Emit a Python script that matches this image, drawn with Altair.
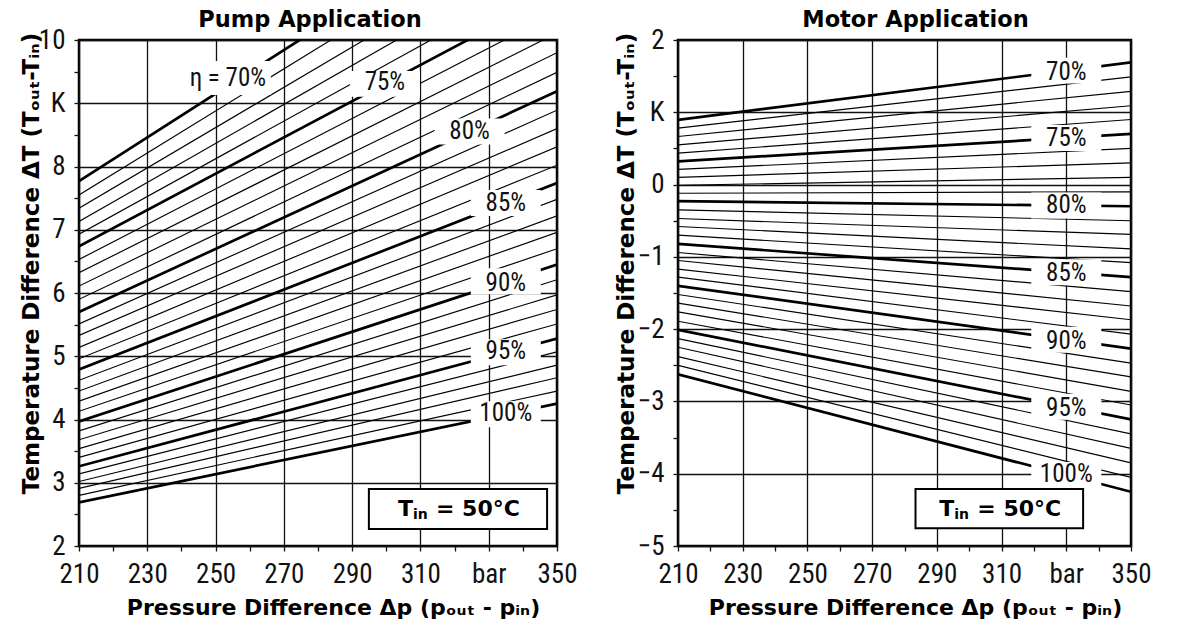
import altair as alt
import pandas as pd

# ---------------- data ----------------
eta = list(range(70, 101))
p_start, p_end = 210, 350

pump_dt_210 = [7.77, 7.55, 7.34, 7.13, 6.93, 6.74, 6.53, 6.32, 6.11, 5.90,
               5.70, 5.51, 5.33, 5.14, 4.96, 4.79, 4.62, 4.45, 4.29, 4.13,
               3.97, 3.82, 3.68, 3.54, 3.40, 3.26, 3.14, 3.02, 2.91, 2.80, 2.69]
pump_dt_350 = [12.6, 12.2, 11.8, 11.45, 11.1, 10.75, 10.43, 10.11, 9.80, 9.49,
               9.19, 8.89, 8.60, 8.31, 8.02, 7.74, 7.48, 7.22, 6.96, 6.70,
               6.45, 6.21, 5.97, 5.74, 5.51, 5.28, 5.07, 4.86, 4.66, 4.45, 4.25]
motor_dt_210 = [0.895, 0.78, 0.665, 0.55, 0.435, 0.32, 0.21, 0.10, -0.01, -0.12,
                -0.23, -0.35, -0.47, -0.58, -0.70, -0.82, -0.94, -1.05, -1.17, -1.28,
                -1.40, -1.52, -1.64, -1.76, -1.89, -2.01, -2.13, -2.25, -2.38, -2.50, -2.625]
motor_dt_350 = [1.69, 1.49, 1.29, 1.09, 0.90, 0.70, 0.50, 0.30, 0.10, -0.10,
                -0.30, -0.50, -0.69, -0.89, -1.08, -1.28, -1.48, -1.68, -1.87, -2.07,
                -2.27, -2.47, -2.66, -2.86, -3.05, -3.25, -3.45, -3.65, -3.85, -4.05, -4.25]

label_eta = [70, 75, 80, 85, 90, 95, 100]
pump_label_text = ["η = 70%", "75%", "80%", "85%", "90%", "95%", "100%"]
pump_label_x = [253.6, 299.6, 324.4, 335, 335, 335, 335]
pump_label_y = [9.40, 9.33, 8.56, 7.43, 6.16, 5.08, 4.11]
motor_label_text = ["70%", "75%", "80%", "85%", "90%", "95%", "100%"]
motor_label_x = [330, 330, 330, 330, 330, 330, 330]
motor_label_y = [1.56, 0.64, -0.28, -1.22, -2.17, -3.09, -4.01]

pump_tin_box = {"p": 294.9, "p2": 347.1, "dt": 2.27, "dt2": 2.90}
motor_tin_box = {"p": 283.4, "p2": 335.2, "dt": -4.755, "dt2": -4.21}
tin_parts = ["T", "in", "= 50°C"]

x_ticks = list(range(210, 351, 10))
pump_y_ticks = [v / 2 for v in range(4, 21)]
motor_y_ticks = [v / 2 for v in range(-10, 5)]

X_TITLE = "Pressure Difference Δp (pₒᵤₜ - pᵢₙ)"
Y_TITLE = "Temperature Difference ΔT (Tₒᵤₜ-Tᵢₙ)"

NARROW = "Liberation Sans Narrow, Roboto Condensed, Liberation Sans, sans-serif"
BOLD = "DejaVu Sans, Liberation Sans, Arial, sans-serif"


def line_frame(d0, d1):
    rows = []
    for e, a, b in zip(eta, d0, d1):
        rows.append({"eta": e, "p": p_start, "dt": a})
        rows.append({"eta": e, "p": p_end, "dt": b})
    return pd.DataFrame(rows)


def value_at(e, x, d0, d1):
    i = eta.index(e)
    return d0[i] + (d1[i] - d0[i]) * (x - p_start) / (p_end - p_start)


def rect_path(w, h):
    r = h / w
    return f"M-1,-{r:.3f}L1,-{r:.3f}L1,{r:.3f}L-1,{r:.3f}Z"


def panel(title, title_dx, d0, d1, ydom, yticks, kval, ltext, lx, ly, tin,
          w, h, ytitle_x, ytitle_y, xtitle_x, eta_box=False):
    xs = alt.Scale(domain=[210, 350], nice=False, zero=False)
    ys = alt.Scale(domain=ydom, nice=False, zero=False)
    x_axis = alt.Axis(
        values=x_ticks, grid=True, domain=False, format="d",
        gridOpacity={"condition": {"test": "datum.value % 20 == 10", "value": 1}, "value": 0},
        gridColor="#111", gridWidth=1.3,
        tickColor="#111", tickSize=5, tickWidth=1.3,
        labelExpr="datum.value % 20 != 10 ? '' : (datum.value == 330 ? 'bar' : datum.label)",
        labelFont=NARROW, labelFontSize=27, labelColor="#111", labelPadding=10,
        labelFlush=False, labelOverlap=False,
        titleFont=BOLD, titleFontSize=22, titleFontWeight="bold", titleColor="black",
        titlePadding=10, titleX=xtitle_x,
    )
    y_axis = alt.Axis(
        values=yticks, grid=True, domain=False, format="~g",
        gridOpacity={"condition": {"test": "datum.value % 1 == 0", "value": 1}, "value": 0},
        gridColor="#111", gridWidth=1.3,
        tickColor="#111", tickSize=5, tickWidth=1.3,
        labelExpr=f"datum.value % 1 != 0 ? '' : (datum.value == {kval} ? 'K' : datum.label)",
        labelFont=NARROW, labelFontSize=27, labelColor="#111", labelPadding=9,
        labelFlush=False, labelOverlap=False,
        titleFont=BOLD, titleFontSize=23, titleFontWeight="bold", titleColor="black",
        titleX=ytitle_x, titleY=ytitle_y,
    )

    def X(field):
        return alt.X(field, scale=xs, axis=x_axis, title=X_TITLE)

    def Y(field):
        return alt.Y(field, scale=ys, axis=y_axis, title=Y_TITLE)

    lines = alt.Chart(line_frame(d0, d1)).mark_line(clip=True, color="black", strokeCap="butt").encode(
        x=X("p:Q"), y=Y("dt:Q"),
        detail="eta:N",
        strokeWidth=alt.condition("datum.eta % 5 == 0", alt.value(2.7), alt.value(1.15)),
    )
    ldf = pd.DataFrame({"eta": label_eta, "text": ltext, "p": lx, "ly": ly})
    ldf["dt"] = [value_at(e, x, d0, d1) for e, x in zip(label_eta, lx)]
    if eta_box:
        main = ldf.iloc[1:]
        first = ldf.iloc[:1].copy()
        first["dt"] = first["ly"]
    else:
        main = ldf
        first = None
    box_w, box_h = 70, 26
    boxes = alt.Chart(main).mark_point(
        shape=rect_path(box_w, box_h),
        filled=True, color="white", opacity=1, strokeWidth=0, size=box_w ** 2,
    ).encode(x=X("p:Q"), y=Y("dt:Q"))
    layers = [lines, boxes]
    if first is not None:
        bw, bh = 86, 34
        layers.append(alt.Chart(first).mark_point(
            shape=rect_path(bw, bh),
            filled=True, color="white", opacity=1, strokeWidth=0, size=bw ** 2,
        ).encode(x=X("p:Q"), y=Y("dt:Q")))
    texts = alt.Chart(ldf).mark_text(font=NARROW, fontSize=25, color="#111", baseline="middle").encode(
        x=X("p:Q"), y=Y("ly:Q"), text="text:N")
    layers.append(texts)

    tdf = pd.DataFrame([tin])
    tin_rect = alt.Chart(tdf).mark_rect(fill="white", stroke="black", strokeWidth=2).encode(
        x=X("p:Q"), x2="p2:Q", y=Y("dt:Q"), y2="dt2:Q")
    layers.append(tin_rect)
    cdf = pd.DataFrame([{"p": (tin["p"] + tin["p2"]) / 2, "dt": (tin["dt"] + tin["dt2"]) / 2,
                         "a": tin_parts[0], "b": tin_parts[1], "c": tin_parts[2]}])
    # main letter, subscript, remainder (offsets in pixels from the box centre)
    for field, size, dx, dy in [("a", 22, -60, 0), ("b", 14, -45, 6), ("c", 22, -22, 0)]:
        layers.append(alt.Chart(cdf).mark_text(
            font=BOLD, fontSize=size, fontWeight="bold", color="black",
            baseline="middle", align="left", dx=dx, dy=dy,
        ).encode(x=X("p:Q"), y=Y("dt:Q"), text=f"{field}:N"))

    return alt.layer(*layers).properties(
        width=w, height=h,
        title=alt.TitleParams(title, font=BOLD, fontSize=22.5, fontWeight="bold", color="black",
                              anchor="middle", frame="group", offset=-5, dx=title_dx),
    )


pump = panel("Pump Application", -8, pump_dt_210, pump_dt_350, [2, 10], pump_y_ticks, 9,
             pump_label_text, pump_label_x, pump_label_y, pump_tin_box, 478, 506,
             -36, 223, 254, eta_box=True)
motor = panel("Motor Application", 11, motor_dt_210, motor_dt_350, [-5, 2], motor_y_ticks, 1,
              motor_label_text, motor_label_x, motor_label_y, motor_tin_box, 453, 506,
              -40, 223, 237)

chart = alt.hconcat(pump, motor, spacing=34).properties(
    padding={"left": 18, "top": 7, "right": 4, "bottom": 4},
    background="white",
).configure_view(stroke="black", strokeWidth=2.5)

chart.save("out.html", embed_options={"renderer": "svg", "actions": False})
